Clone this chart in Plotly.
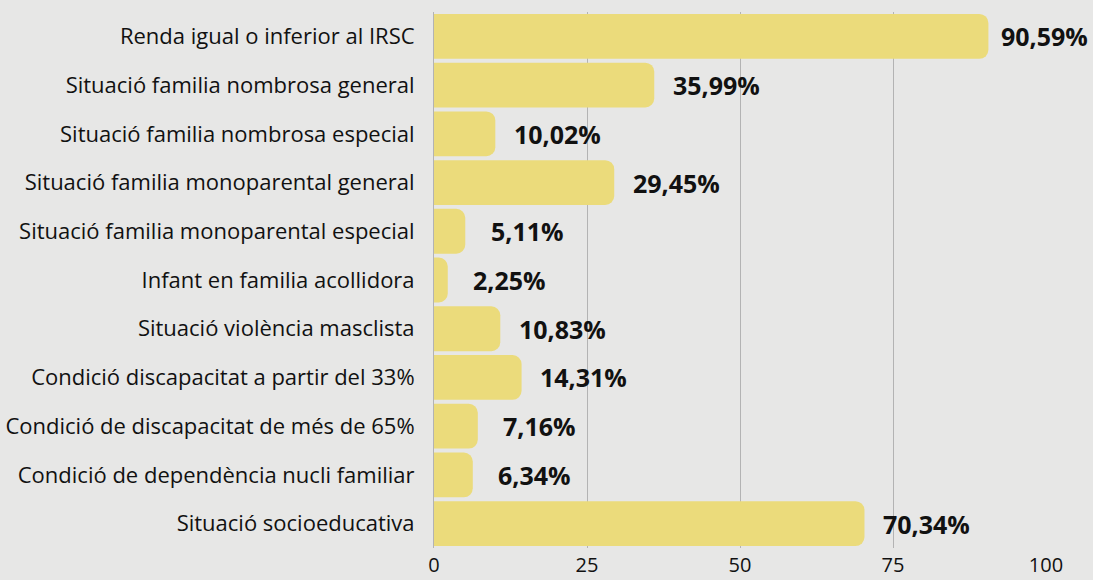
import plotly.graph_objects as go

categories = [
    "Renda igual o inferior al IRSC",
    "Situació familia nombrosa general",
    "Situació familia nombrosa especial",
    "Situació familia monoparental general",
    "Situació familia monoparental especial",
    "Infant en familia acollidora",
    "Situació violència masclista",
    "Condició discapacitat a partir del 33%",
    "Condició de discapacitat de més de 65%",
    "Condició de dependència nucli familiar",
    "Situació socioeducativa",
]
values = [90.59, 35.99, 10.02, 29.45, 5.11, 2.25, 10.83, 14.31, 7.16, 6.34, 70.34]
tick_values = [0, 25, 50, 75, 100]
tick_labels = ["0", "25", "50", "75", "100"]

labels = [f"{v:.2f}%".replace(".", ",") for v in values]

FONT = "Open Sans"
W, H = 1093, 580
ML, MR, MT, MB = 434, 47, 12, 32
XMAX = 100
plot_w = W - ML - MR

fig = go.Figure(
    go.Bar(
        x=values,
        y=categories,
        orientation="h",
        marker=dict(color="#ebdb7b", line=dict(width=0)),
        hoverinfo="skip",
    )
)

LABEL_SHIFT = 62
LABEL_HALF_W = 48
for v, c, t in zip(values, categories, labels):
    # keep label inside the canvas (clamped like the original)
    max_shift = plot_w + MR - LABEL_HALF_W - v / XMAX * plot_w
    fig.add_annotation(
        x=v, y=c, xref="x", yref="y", text=f"<b>{t}</b>",
        showarrow=False, xanchor="center", yanchor="middle",
        xshift=min(LABEL_SHIFT, max_shift),
        font=dict(family=FONT, size=25, color="#111111"),
    )

fig.update_layout(
    width=W, height=H,
    margin=dict(l=ML, r=MR, t=MT, b=MB, autoexpand=False),
    paper_bgcolor="#e7e7e6",
    plot_bgcolor="#e7e7e6",
    bargap=0.08,
    barcornerradius=9,
    showlegend=False,
    font=dict(family=FONT, size=22, color="#111111"),
)
fig.update_xaxes(
    range=[0, XMAX],
    automargin=False,
    tickvals=tick_values, ticktext=tick_labels,
    showgrid=True, gridcolor="#b3b3b3", gridwidth=1,
    zeroline=False, showline=False, ticks="",
    ticklabelstandoff=3,
    tickfont=dict(family=FONT, size=20, color="#111111"),
)
fig.update_yaxes(
    autorange="reversed",
    automargin=False,
    showgrid=False, ticks="", ticklabelstandoff=14,
    showline=True, linecolor="#b3b3b3", linewidth=1,
    tickfont=dict(family=FONT, size=22, color="#111111"),
)

fig.write_html(
    "out.html",
    config={"displayModeBar": False},
    post_script="document.body.style.margin='0';document.body.style.overflow='hidden';",
)
